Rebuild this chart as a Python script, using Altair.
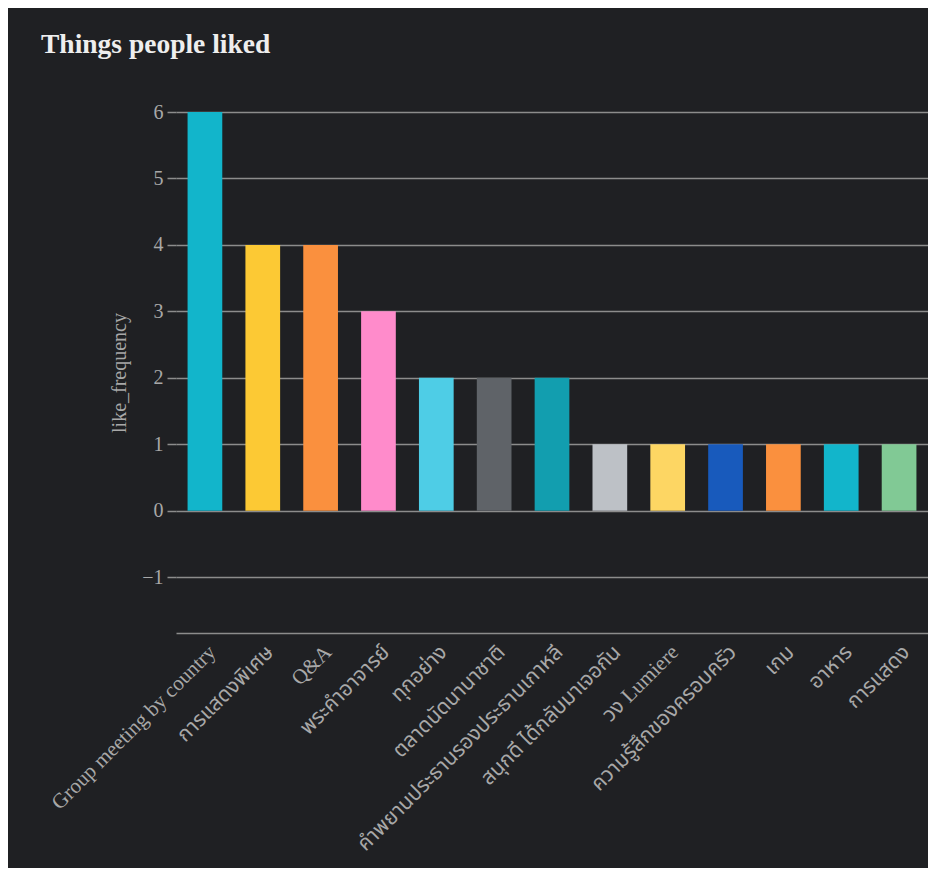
import altair as alt
import pandas as pd

categories = [
    "Group meeting by country",
    "การแสดงพิเศษ",
    "Q&A",
    "พระคำอาจารย์",
    "ทุกอย่าง",
    "ตลาดนัดนานาชาติ",
    "คำพยานประธานรองประธานเกาหลี",
    "สนุกดี ได้กลับมาเจอกัน",
    "วง Lumiere",
    "ความรู้สึกของครอบครัว",
    "เกม",
    "อาหาร",
    "การแสดง",
]
like_frequency = [6, 4, 4, 3, 2, 2, 2, 1, 1, 1, 1, 1, 1]
bar_colors = [
    "#12B5CB", "#FCC934", "#FA903E", "#FF8BCB", "#4ECDE6", "#5F6368",
    "#129EAF", "#BDC1C6", "#FDD663", "#185ABC", "#FA903E", "#12B5CB", "#81C995",
]

df = pd.DataFrame({"thing": categories, "like_frequency": like_frequency})

FONT = "Liberation Serif"
LABEL_FONT = "'Liberation Serif', 'Noto Sans Thai', 'Noto Serif Thai', Loma, Garuda, serif"
BG = "#1f2023"
GRID = "#8c8c8c"
TXT = "#a8a8a8"

chart = alt.Chart(df).mark_bar().encode(
    x=alt.X(
        "thing:N",
        sort=categories,
        title=None,
        scale=alt.Scale(paddingInner=0.4, paddingOuter=0.2),
        axis=alt.Axis(
            labelAngle=-45, labelAlign="right", labelBaseline="top",
            ticks=False, domain=True, domainColor=GRID, domainWidth=1.5,
            labelColor=TXT, labelFont=LABEL_FONT, labelFontSize=21, labelPadding=8,
            labelLimit=0, grid=False,
        ),
    ),
    y=alt.Y(
        "like_frequency:Q",
        title="like_frequency",
        scale=alt.Scale(domain=[-1.84, 6], nice=False, zero=False),
        axis=alt.Axis(
            values=[-1, 0, 1, 2, 3, 4, 5, 6], format="d",
            domain=False, ticks=True, tickSize=9, tickColor=GRID, tickWidth=1.5,
            grid=True, gridColor=GRID, gridWidth=1.5,
            labelColor=TXT, labelFont=FONT, labelFontSize=20, labelPadding=4,
            titleColor=TXT, titleFont=FONT, titleFontSize=20, titleFontWeight="normal",
            titlePadding=12,
        ),
    ),
    color=alt.Color(
        "thing:N", legend=None,
        scale=alt.Scale(domain=categories, range=bar_colors),
    ),
).properties(
    width=752,
    height=521,
    title=alt.TitleParams(
        "Things people liked", font=FONT, fontSize=27.5, fontWeight="bold",
        color="#eeeeee", anchor="start", frame="group", dx=-135, dy=-40,
    ),
    background=BG,
    padding={"left": 168, "top": 104, "right": 0, "bottom": 235},
    autosize=alt.AutoSizeParams(type="none"),
).configure_view(stroke=None).configure_axis(zindex=1)

chart.save("out.html", embed_options={"renderer": "svg", "actions": False})
